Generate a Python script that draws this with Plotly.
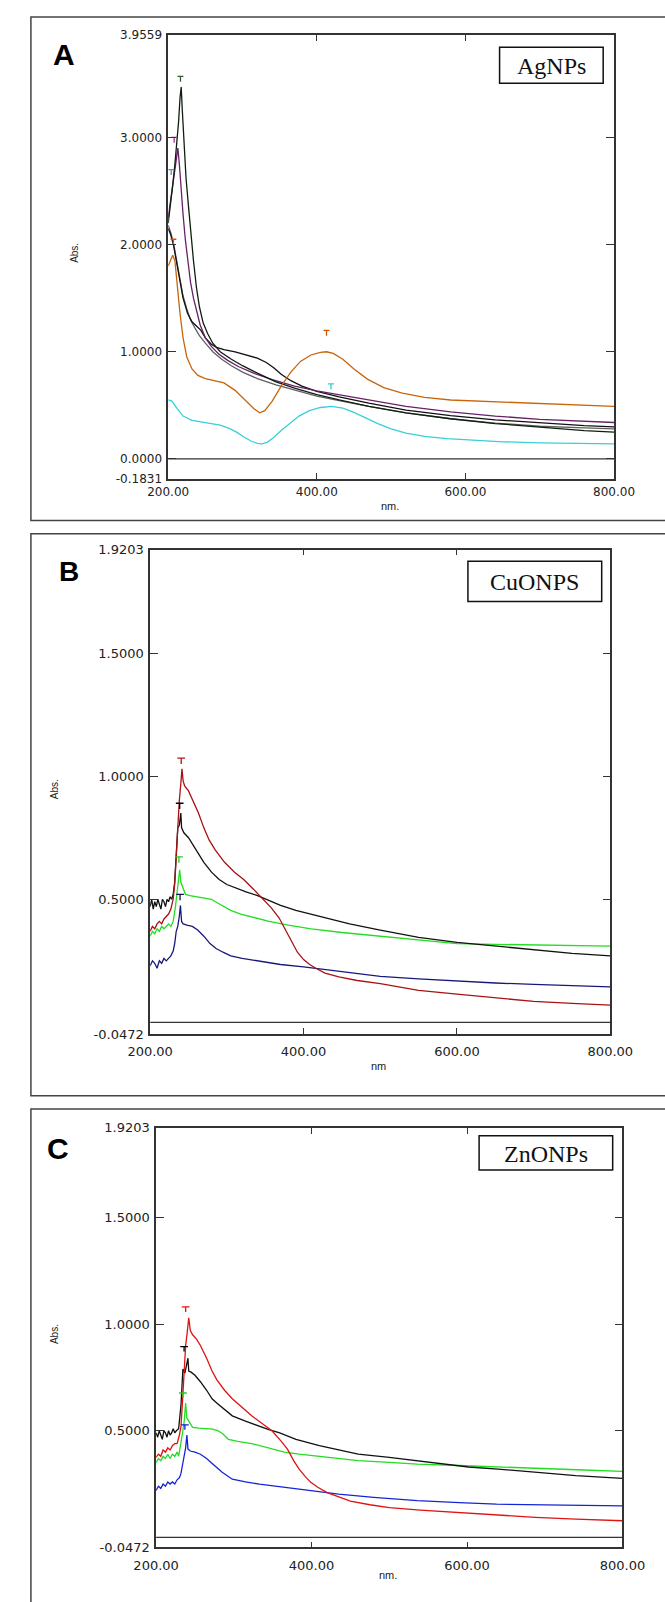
import plotly.graph_objects as go

W, H = 665, 1602

# ---------------- Panel A (AgNPs) ----------------
A_orange_x = [200, 203, 206, 209, 212, 216, 220, 225, 232, 240, 250, 262, 275, 290, 305, 315, 323, 330, 340, 352, 365, 378, 392, 405, 413, 422, 435, 450, 468, 490, 515, 545, 580, 620, 670, 720, 770, 800]
A_orange_y = [1.80, 1.85, 1.90, 1.85, 1.62, 1.35, 1.13, 0.95, 0.84, 0.78, 0.75, 0.73, 0.71, 0.64, 0.54, 0.47, 0.43, 0.45, 0.54, 0.68, 0.81, 0.91, 0.97, 0.995, 1.0, 0.985, 0.93, 0.84, 0.745, 0.665, 0.615, 0.575, 0.55, 0.54, 0.525, 0.515, 0.50, 0.49]

A_cyan_x = [200, 205, 212, 220, 232, 245, 258, 270, 282, 292, 302, 312, 320, 326, 333, 342, 352, 364, 376, 390, 405, 420, 435, 450, 465, 482, 500, 520, 545, 575, 610, 650, 700, 750, 800]
A_cyan_y = [0.55, 0.54, 0.47, 0.40, 0.36, 0.345, 0.33, 0.315, 0.285, 0.25, 0.205, 0.165, 0.145, 0.14, 0.155, 0.20, 0.265, 0.335, 0.40, 0.45, 0.48, 0.49, 0.475, 0.435, 0.385, 0.33, 0.28, 0.24, 0.21, 0.19, 0.175, 0.16, 0.15, 0.143, 0.14]

A_tall_x = [200, 203, 206, 209, 212, 214, 216, 217.5, 219, 221, 224, 227, 230, 234, 238, 242, 247, 253, 260, 270, 285, 300, 320, 345, 370, 400, 430, 470, 520, 580, 640, 700, 760, 800]
A_tall_y = [2.20, 2.35, 2.55, 2.75, 2.95, 3.15, 3.38, 3.47, 3.25, 2.95, 2.62, 2.38, 2.12, 1.85, 1.60, 1.42, 1.27, 1.17, 1.08, 1.00, 0.93, 0.87, 0.80, 0.72, 0.66, 0.60, 0.55, 0.49, 0.43, 0.375, 0.33, 0.295, 0.265, 0.25]

A_purple_x = [200, 203, 206, 209, 211, 213, 215, 217, 220, 223, 226, 230, 234, 238, 243, 250, 258, 268, 280, 295, 315, 340, 370, 400, 430, 470, 520, 580, 640, 700, 760, 800]
A_purple_y = [2.25, 2.40, 2.55, 2.70, 2.82, 2.90, 2.75, 2.55, 2.28, 2.05, 1.85, 1.65, 1.50, 1.38, 1.25, 1.13, 1.05, 0.98, 0.92, 0.86, 0.80, 0.74, 0.68, 0.635, 0.60, 0.55, 0.49, 0.44, 0.40, 0.37, 0.35, 0.34]

A_shoulder_x = [200, 203, 207, 211, 215, 220, 226, 232, 238, 244, 250, 258, 265, 275, 290, 305, 320, 332, 342, 352, 365, 380, 400, 430, 470, 520, 580, 640, 700, 760, 800]
A_shoulder_y = [2.15, 2.10, 2.00, 1.85, 1.68, 1.50, 1.36, 1.28, 1.24, 1.20, 1.13, 1.07, 1.04, 1.02, 1.00, 0.97, 0.94, 0.90, 0.85, 0.79, 0.73, 0.68, 0.63, 0.58, 0.52, 0.455, 0.405, 0.365, 0.335, 0.31, 0.30]

A_gray_x = [200, 204, 208, 212, 216, 220, 225, 230, 236, 242, 250, 260, 272, 285, 300, 320, 345, 370, 400, 430, 470, 520, 580, 640, 700, 760, 800]
A_gray_y = [2.18, 2.10, 1.98, 1.82, 1.66, 1.52, 1.40, 1.30, 1.22, 1.15, 1.08, 1.00, 0.93, 0.87, 0.81, 0.75, 0.69, 0.64, 0.585, 0.545, 0.49, 0.43, 0.375, 0.335, 0.305, 0.29, 0.28]

A_yticks = [-0.1831, 0.0, 1.0, 2.0, 3.0, 3.9559]
A_yticktext = ["-0.1831", "0.0000", "1.0000", "2.0000", "3.0000", "3.9559"]
A_mark_x = [216.5, 208, 204, 207, 413, 419]
A_mark_y = [3.57, 3.0, 2.7, 2.05, 1.20, 0.70]
A_mark_c = ["#2f5f2f", "#993399", "#7788aa", "#dd5500", "#cc5500", "#33cccc"]

# ---------------- Panel B (CuONPS) ----------------
B_red_x = [200, 203, 206, 209, 212, 215, 218, 221, 224, 227, 230, 232, 234, 236, 238, 240, 241.5, 243, 245, 250, 256, 263, 270, 277, 285, 297, 310, 322, 335, 348, 358, 368, 376, 384, 392, 400, 408, 416, 428, 446, 470, 500, 550, 600, 650, 700, 750, 800]
B_red_y = [0.37, 0.39, 0.38, 0.40, 0.41, 0.40, 0.42, 0.43, 0.44, 0.46, 0.50, 0.56, 0.68, 0.80, 0.90, 0.97, 1.03, 0.98, 0.96, 0.94, 0.90, 0.85, 0.79, 0.74, 0.70, 0.65, 0.61, 0.58, 0.54, 0.50, 0.465, 0.425, 0.38, 0.33, 0.285, 0.255, 0.235, 0.22, 0.20, 0.185, 0.17, 0.157, 0.13, 0.115, 0.10, 0.085, 0.077, 0.07]

B_black_x = [200, 202, 204, 206, 208, 210, 212, 214, 216, 218, 220, 222, 224, 226, 228, 230, 232, 234, 236, 238, 240, 241, 242, 244, 250, 256, 263, 270, 280, 290, 300, 312, 325, 340, 355, 370, 390, 410, 430, 460, 500, 550, 600, 650, 700, 750, 800]
B_black_y = [0.47, 0.50, 0.46, 0.49, 0.47, 0.50, 0.48, 0.46, 0.50, 0.49, 0.47, 0.50, 0.49, 0.51, 0.50, 0.52, 0.57, 0.70, 0.79, 0.80, 0.85, 0.79, 0.78, 0.77, 0.75, 0.72, 0.68, 0.65, 0.61, 0.58, 0.56, 0.545, 0.53, 0.515, 0.495, 0.475, 0.455, 0.44, 0.425, 0.40, 0.375, 0.345, 0.325, 0.31, 0.295, 0.28, 0.27]

B_green_x = [200, 203, 206, 209, 212, 215, 218, 221, 224, 227, 230, 233, 235, 237, 238.5, 240, 242, 246, 252, 260, 270, 280, 288, 296, 305, 318, 335, 355, 380, 410, 450, 500, 550, 600, 650, 700, 750, 800]
B_green_y = [0.35, 0.37, 0.36, 0.38, 0.37, 0.39, 0.38, 0.39, 0.40, 0.39, 0.41, 0.47, 0.52, 0.58, 0.62, 0.57, 0.55, 0.52, 0.515, 0.51, 0.505, 0.50, 0.485, 0.47, 0.455, 0.44, 0.425, 0.41, 0.395, 0.38, 0.365, 0.35, 0.335, 0.32, 0.317, 0.315, 0.312, 0.31]

B_blue_x = [200, 203, 206, 209, 212, 215, 218, 221, 224, 227, 230, 232, 234, 236, 238, 239.5, 241, 243, 248, 255, 262, 270, 278, 286, 295, 305, 320, 340, 370, 400, 440, 500, 550, 600, 650, 700, 750, 800]
B_blue_y = [0.23, 0.25, 0.24, 0.22, 0.25, 0.24, 0.26, 0.25, 0.26, 0.27, 0.29, 0.32, 0.37, 0.39, 0.43, 0.475, 0.41, 0.40, 0.395, 0.39, 0.375, 0.35, 0.32, 0.30, 0.285, 0.27, 0.26, 0.25, 0.235, 0.225, 0.21, 0.187, 0.177, 0.168, 0.16, 0.154, 0.148, 0.144]

BC_yticks = [-0.0472, 0.5, 1.0, 1.5, 1.9203]
BC_yticktext = ["-0.0472", "0.5000", "1.0000", "1.5000", "1.9203"]
B_mark_x = [240.5, 238.5, 237.5, 239]
B_mark_y = [1.073, 0.89, 0.672, 0.52]
B_mark_c = ["#b01010", "#000000", "#22cc22", "#101060"]

# ---------------- Panel C (ZnONPs) ----------------
C_red_x = [200, 203, 206, 209, 212, 215, 218, 221, 224, 227, 230, 232, 234, 236, 238, 240, 242, 244, 247, 252, 257, 265, 272, 278, 288, 298, 310, 323, 336, 349, 360, 369, 377, 384, 392, 399, 408, 420, 435, 450, 475, 500, 540, 587, 640, 688, 740, 800]
C_red_y = [0.375, 0.39, 0.38, 0.41, 0.40, 0.42, 0.41, 0.43, 0.44, 0.44, 0.48, 0.52, 0.64, 0.79, 0.90, 0.96, 1.03, 0.97, 0.95, 0.93, 0.90, 0.84, 0.78, 0.74, 0.69, 0.65, 0.61, 0.57, 0.535, 0.50, 0.455, 0.414, 0.36, 0.32, 0.285, 0.258, 0.235, 0.21, 0.19, 0.17, 0.153, 0.14, 0.128, 0.117, 0.105, 0.094, 0.086, 0.078]

C_black_x = [200, 202, 204, 206, 208, 210, 212, 214, 216, 218, 220, 222, 224, 226, 229, 232, 234.5, 237, 239, 241, 242, 245, 250, 257, 265, 272, 278, 288, 298, 315, 333, 345, 359, 380, 410, 435, 460, 500, 536, 570, 602, 640, 688, 740, 800]
C_black_y = [0.49, 0.47, 0.50, 0.48, 0.46, 0.50, 0.49, 0.47, 0.50, 0.48, 0.49, 0.51, 0.49, 0.50, 0.51, 0.62, 0.79, 0.77, 0.80, 0.84, 0.78, 0.775, 0.76, 0.73, 0.69, 0.65, 0.63, 0.60, 0.57, 0.545, 0.52, 0.505, 0.49, 0.46, 0.43, 0.41, 0.39, 0.375, 0.36, 0.345, 0.33, 0.32, 0.305, 0.29, 0.277]

C_green_x = [200, 203, 206, 209, 212, 215, 218, 221, 224, 227, 229, 232, 234, 236, 238, 239.5, 241, 244, 247, 255, 264, 272.5, 280, 286, 293, 305, 323, 345, 365, 384, 420, 460, 500, 536, 590, 638, 700, 750, 800]
C_green_y = [0.35, 0.37, 0.36, 0.38, 0.37, 0.39, 0.37, 0.39, 0.38, 0.40, 0.38, 0.44, 0.49, 0.54, 0.63, 0.56, 0.55, 0.53, 0.516, 0.512, 0.51, 0.508, 0.50, 0.485, 0.46, 0.45, 0.44, 0.42, 0.40, 0.39, 0.375, 0.36, 0.352, 0.344, 0.337, 0.33, 0.322, 0.316, 0.31]

C_blue_x = [200, 203, 206, 209, 212, 215, 218, 221, 224, 227, 230, 232, 234.5, 236, 238, 239.6, 241, 244, 250, 257, 265, 271, 277.6, 285, 298, 315, 333, 355, 384, 410, 434.8, 480, 536, 590, 638, 700, 750, 800]
C_blue_y = [0.22, 0.24, 0.23, 0.25, 0.24, 0.26, 0.25, 0.26, 0.25, 0.27, 0.28, 0.30, 0.35, 0.38, 0.42, 0.48, 0.414, 0.405, 0.40, 0.39, 0.37, 0.35, 0.33, 0.305, 0.273, 0.26, 0.25, 0.24, 0.227, 0.215, 0.203, 0.188, 0.172, 0.163, 0.156, 0.152, 0.15, 0.148]

C_mark_x = [238, 236, 234.5, 237]
C_mark_y = [1.081, 0.895, 0.677, 0.528]
C_mark_c = ["#ee1010", "#000000", "#22cc22", "#1020d0"]

x_ticks = [200, 400, 600, 800]
x_ticktext = ["200.00", "400.00", "600.00", "800.00"]

panels = [
    dict(ax="", xdom=(156, 635), ydom=(28.3, 476), yr=(-0.1831, 3.9559), yt=A_yticks, ytt=A_yticktext, fs=12, so=1,
         series=[(A_gray_x, A_gray_y, "#606060"), (A_shoulder_x, A_shoulder_y, "#111111"),
                 (A_purple_x, A_purple_y, "#6a1f6a"), (A_tall_x, A_tall_y, "#0f1f0f"),
                 (A_cyan_x, A_cyan_y, "#38d0d8"), (A_orange_x, A_orange_y, "#c8650a")],
         marks=(A_mark_x, A_mark_y, A_mark_c), half=4),
    dict(ax="2", xdom=(136.6, 631), ydom=(547.7, 1036.7), yr=(-0.0472, 1.9203), yt=BC_yticks, ytt=BC_yticktext, fs=13, so=5,
         series=[(B_blue_x, B_blue_y, "#18187a"), (B_green_x, B_green_y, "#22dd22"),
                 (B_black_x, B_black_y, "#111111"), (B_red_x, B_red_y, "#a81212")],
         marks=(B_mark_x, B_mark_y, B_mark_c), half=5),
    dict(ax="3", xdom=(143, 644), ydom=(1131.5, 1555), yr=(-0.0472, 1.9203), yt=BC_yticks, ytt=BC_yticktext, fs=13, so=5,
         series=[(C_blue_x, C_blue_y, "#1424d8"), (C_green_x, C_green_y, "#22dd22"),
                 (C_black_x, C_black_y, "#111111"), (C_red_x, C_red_y, "#e01212")],
         marks=(C_mark_x, C_mark_y, C_mark_c), half=5),
]

fig = go.Figure()
layout = dict(width=W, height=H, margin=dict(l=0, r=0, t=0, b=0), autosize=False,
              paper_bgcolor="white", plot_bgcolor="white", showlegend=False)
shapes = []
annotations = []


def px(x):
    return x / W


def py(y):
    return 1 - y / H


for p in panels:
    xa = "x" + p["ax"]
    ya = "y" + p["ax"]
    for sx, sy, col in p["series"]:
        fig.add_trace(go.Scatter(x=sx, y=sy, mode="lines", line=dict(color=col, width=1.3),
                                 xaxis=xa, yaxis=ya, hoverinfo="skip"))
    mx, my, mc = p["marks"]
    for xc, yc, col in zip(mx, my, mc):
        fig.add_trace(go.Scatter(x=[xc - p["half"], xc + p["half"], None, xc, xc],
                                 y=[yc, yc, None, yc, yc - (p["yr"][1] - p["yr"][0]) * 0.012],
                                 mode="lines", line=dict(color=col, width=1.3),
                                 xaxis=xa, yaxis=ya, hoverinfo="skip"))
    axkey = "xaxis" + p["ax"]
    aykey = "yaxis" + p["ax"]
    layout[axkey] = dict(domain=[px(p["xdom"][0]), px(p["xdom"][1])], range=[200, 800],
                         anchor=ya, showgrid=False, zeroline=False, showline=True,
                         linecolor="#333333", linewidth=1.5, mirror="ticks", ticks="inside",
                         ticklen=6, tickwidth=1.3, tickcolor="#333333",
                         tickvals=x_ticks, ticktext=x_ticktext, ticklabelstandoff=p["so"],
                         tickfont=dict(family="DejaVu Sans", size=p["fs"], color="#222222"))
    layout[aykey] = dict(domain=[py(p["ydom"][1]), py(p["ydom"][0])], range=list(p["yr"]),
                         anchor=xa, showgrid=False, zeroline=False, showline=True,
                         linecolor="#333333", linewidth=1.5, mirror="ticks", ticks="inside",
                         ticklen=8, tickwidth=1.3, tickcolor="#333333",
                         tickvals=p["yt"], ticktext=p["ytt"], ticklabelstandoff=2,
                         tickfont=dict(family="DejaVu Sans", size=p["fs"], color="#222222"))
    # zero baseline
    shapes.append(dict(type="line", xref=xa, yref=ya, x0=200, x1=800, y0=0, y1=0,
                       line=dict(color="#333333", width=1.3)))

layout["xaxis"]["anchor"] = "y"
layout["yaxis"]["anchor"] = "x"

# outer panel frames (extend past the right edge)
for top, bot in [(10, 518.3), (531.7, 1099), (1112.5, 1700)]:
    shapes.append(dict(type="rect", xref="paper", yref="paper", x0=px(8.5), x1=px(700),
                       y0=py(bot), y1=py(top), line=dict(color="#444444", width=1.5)))

# sample name boxes
name_boxes = [("AgNPs", 512, 623.3, 40.7, 77), ("CuONPS", 478, 621.7, 559.6, 600), ("ZnONPs", 490, 633.5, 1139.3, 1174)]
for txt, x0, x1, y0, y1 in name_boxes:
    shapes.append(dict(type="rect", xref="paper", yref="paper", x0=px(x0), x1=px(x1),
                       y0=py(y1), y1=py(y0), line=dict(color="#111111", width=1.5),
                       fillcolor="white"))
    annotations.append(dict(text=txt, xref="paper", yref="paper", x=px((x0 + x1) / 2),
                            y=py((y0 + y1) / 2 + 1), xanchor="center", yanchor="middle",
                            showarrow=False, font=dict(family="Liberation Serif", size=24, color="#111111")))

# panel letters
for letter, x, y, s in [("A", 44.5, 48, 30), ("B", 49, 570, 28), ("C", 38, 1152, 30)]:
    annotations.append(dict(text="<b>%s</b>" % letter, xref="paper", yref="paper", x=px(x), y=py(y),
                            xanchor="center", yanchor="middle", showarrow=False,
                            font=dict(family="Liberation Sans", size=s, color="#000000")))

# axis titles
for txt, x, y in [("Abs.", 55, 248), ("Abs.", 34, 790), ("Abs.", 34, 1340)]:
    annotations.append(dict(text=txt, xref="paper", yref="paper", x=px(x), y=py(y), textangle=-90,
                            xanchor="center", yanchor="middle", showarrow=False,
                            font=dict(family="Liberation Sans", size=10, color="#222222")))
for txt, x, y in [("nm.", 394, 504), ("nm", 382, 1069), ("nm.", 392, 1583)]:
    annotations.append(dict(text=txt, xref="paper", yref="paper", x=px(x), y=py(y),
                            xanchor="center", yanchor="middle", showarrow=False,
                            font=dict(family="Liberation Sans", size=11, color="#222222")))

layout["shapes"] = shapes
layout["annotations"] = annotations
fig.update_layout(**layout)
fig.write_html("out.html")
